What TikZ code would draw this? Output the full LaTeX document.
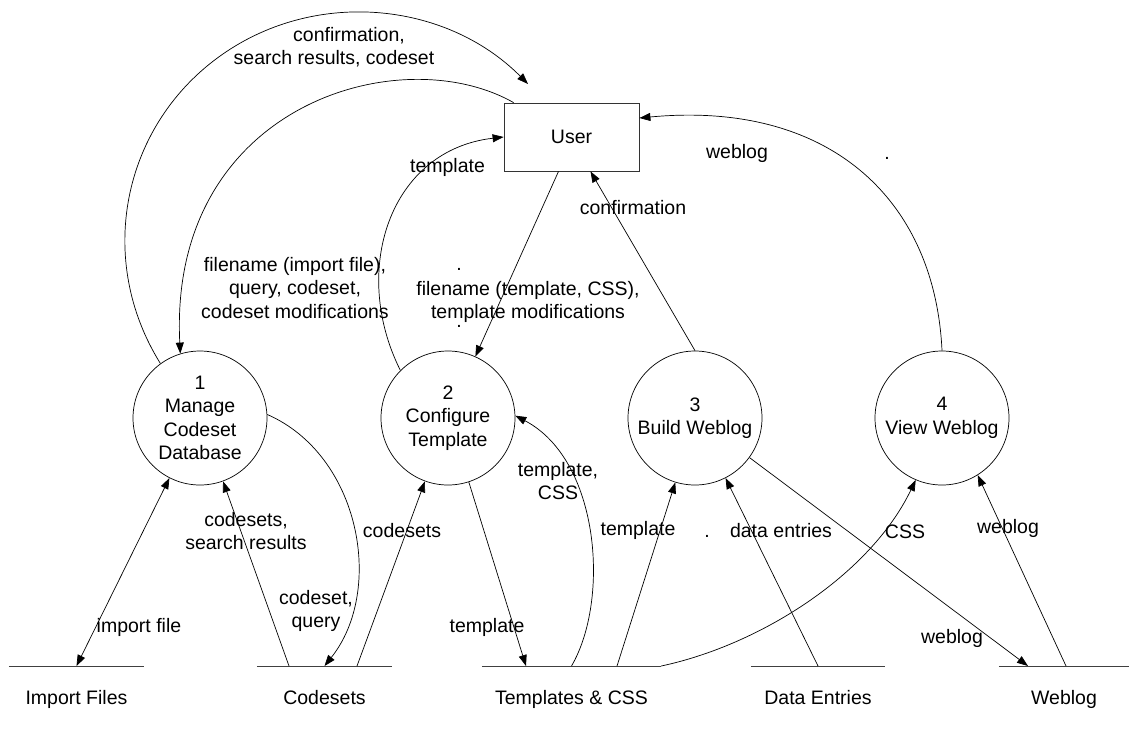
\documentclass[tikz,border=0pt]{standalone}
\usepackage{fontspec}
\setmainfont{Liberation Sans}
\usepackage{tikz}
\usetikzlibrary{positioning}
\usetikzlibrary{arrows.meta}
\tikzstyle{flow} = [line width=0.7pt,-{Triangle[length=11pt,width=8pt]}]
\tikzstyle{dflow} = [line width=0.7pt,{Triangle[length=11pt,width=8pt]}-{Triangle[length=11pt,width=8pt]}]
\tikzstyle{process} = [draw,circle,line width=0.7pt,minimum size=134pt,inner sep=2pt,align=center]
\tikzstyle{entity} = [draw=black!80,line width=0.8pt,minimum width=135pt,minimum height=68pt]
\tikzstyle{datastore} = [inner sep=0pt,minimum height=0pt]
\tikzstyle{storeline} = [draw=black!75,line width=0.8pt]
\tikzstyle{lbl} = [inner sep=0pt,align=center]

\begin{document}
\begin{tikzpicture}[x=1pt,y=-1pt,font=\fontsize{19.5pt}{23.5pt}\selectfont]
					\useasboundingbox (0,0) rectangle (1129,732);
					
					%Nodes
					\node (user) [entity] at (571.5,137) {User};
					\node (p1) [process] at (200,418) {1\\Manage\\Codeset\\Database};
					\node (p2) [process] at (448,418) {2\\Configure\\Template};
					\node (p3) [process] at (695,418) {3\\Build Weblog};
					\node (p4) [process] at (942,418) {4\\View Weblog};
					\coordinate (uTop) at (528,84);
					
					%Stores
					\node (sImp) [datastore,minimum width=135pt] at (76.5,666) {};
					\node (sCod) [datastore,minimum width=135pt] at (324.5,666) {};
					\node (sTpl) [datastore,minimum width=179pt] at (571.5,666) {};
					\node (sDat) [datastore,minimum width=134pt] at (818,666) {};
					\node (sWeb) [datastore,minimum width=130pt] at (1064,666) {};
					\draw[storeline] (sImp.west) -- (sImp.east);
					\draw[storeline] (sCod.west) -- (sCod.east);
					\draw[storeline] (sTpl.west) -- (sTpl.east);
					\draw[storeline] (sDat.west) -- (sDat.east);
					\draw[storeline] (sWeb.west) -- (sWeb.east);
					\node (tImp) [lbl,below=24pt of sImp] {Import Files};
					\node (tCod) [lbl,below=24pt of sCod] {Codesets};
					\node (tTpl) [lbl,below=24pt of sTpl] {Templates \& CSS};
					\node (tDat) [lbl,below=24pt of sDat] {Data Entries};
					\node (tWeb) [lbl,below=24pt of sWeb] {Weblog};
					
					%Lines
					\draw[flow] (p1.126) .. controls (95.8,259.9) and (121.9,128.6) .. (217.2,58.1)
					  .. controls (312.5,-12.4) and (445.6,1.0) .. (uTop);
					\draw[flow] ([xshift=10pt]user.north west) .. controls (400,38) and (168,105) .. (p1.107);
					\draw[flow] (p2.135) .. controls (350,270) and (390,150) .. (user.west);
					\draw[flow] ([xshift=-13pt]user.south) -- (p2.66);
					\draw[flow] (p3.90) -- ([xshift=19pt]user.south);
					\draw[flow] (p4.90) .. controls (935,200) and (830,100) .. ([yshift=19pt]user.east);
					\draw[dflow] (sImp.center) -- (p1.243);
					\draw[flow] ([xshift=-35.5pt]sCod.center) -- (p1.290);
					\draw[flow] (p1.3) .. controls (360,455) and (385,590) .. (sCod.center);
					\draw[flow] ([xshift=32.5pt]sCod.center) -- (p2.250);
					\draw[flow] (p2.288) -- ([xshift=-45.5pt]sTpl.center);
					\draw[flow] (sTpl.center) .. controls (610,600) and (600,460) .. (p2.2);
					\draw[flow] ([xshift=45.5pt]sTpl.center) -- (p3.253);
					\draw[flow] (sTpl.east) .. controls (760,645) and (870,575) .. (p4.247);
					\draw[flow] (sDat.center) -- (p3.297);
					\draw[flow] (p3.324) -- ([xshift=-36pt]sWeb.center);
					\draw[flow] ([xshift=2pt]sWeb.center) -- (p4.302);
					
					%Labels
					\node (lConf) [lbl] at (334,47) {\hspace*{30pt}confirmation,\\search results, codeset};
					\node (lFile) [lbl] at (295,288) {filename (import file),\\query, codeset,\\codeset modifications};
					\node (lTpl) [lbl] at (447.5,167) {template};
					\node (lTcss) [lbl] at (528,302) {filename (template, CSS),\\template modifications};
					\node (lDotA) [lbl,anchor=base] at (459,270.5) {.};
					\node (lDotB) [lbl,anchor=base] at (459,327.5) {.};
					\node (lConfB) [lbl] at (633,208) {confirmation};
					\node (lWebU) [lbl] at (737,153) {weblog};
					\node (lDotC) [lbl,anchor=base] at (887,159.5) {.};
					\node (lImp) [lbl] at (139,627) {import file};
					\node (lCods) [lbl] at (246,531) {codesets,\\search results};
					\node (lQry) [lbl] at (316,611) {codeset,\\query};
					\node (lCodB) [lbl] at (402,531) {codesets};
					\node (lTplA) [lbl] at (487,627) {template};
					\node (lTcssB) [lbl] at (558,481) {template,\\CSS};
					\node (lTplB) [lbl] at (638,530) {template};
					\node (lDotD) [lbl,anchor=base] at (707,537.5) {.};
					\node (lDat) [lbl] at (781,531) {data entries};
					\node (lCss) [lbl] at (905,532) {CSS};
					\node (lWebA) [lbl] at (952,638) {weblog};
					\node (lWebB) [lbl] at (1008,528) {weblog};
				\end{tikzpicture}
\end{document}
